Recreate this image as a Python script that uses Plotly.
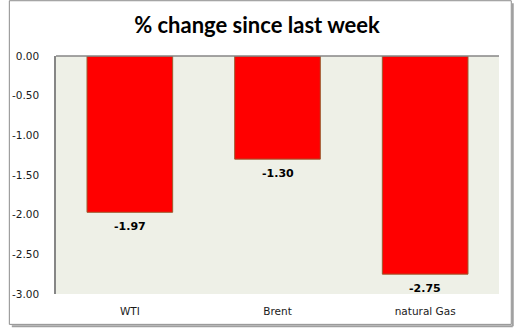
import plotly.graph_objects as go

categories = ["WTI", "Brent", "natural Gas"]
values = [-1.97, -1.30, -2.75]
labels = ["-1.97", "-1.30", "-2.75"]
tick_vals = [0, -0.5, -1.0, -1.5, -2.0, -2.5, -3.0]
tick_text = ["0.00", "-0.50", "-1.00", "-1.50", "-2.00", "-2.50", "-3.00"]

W, H = 514, 329
L, R, T, B = 48, 15, 56, 34
pw, ph = W - L - R, H - T - B

def px(x):
    return (x - L) / pw

def py(y):
    return (H - B - y) / ph

fig = go.Figure()
fig.add_trace(go.Bar(
    x=categories, y=values,
    marker=dict(color="#FF0000", line=dict(color="#9C5A2E", width=1)),
))

for c, v, t in zip(categories, values, labels):
    fig.add_annotation(x=c, y=v, text="<b>%s</b>" % t, showarrow=False,
                       yanchor="middle", yshift=-14,
                       font=dict(family="DejaVu Sans", size=11, color="#000000"))

shapes = [
    dict(type="line", xref="paper", yref="paper", x0=0, x1=1, y0=1, y1=1,
         line=dict(color="#868686", width=1.5)),
    dict(type="rect", xref="paper", yref="paper",
         x0=px(0.5), x1=px(511.5), y0=py(325.5), y1=py(0.5),
         line=dict(color="#8C8C8C", width=1)),
    dict(type="line", xref="paper", yref="paper",
         x0=px(513), x1=px(513), y0=py(327.5), y1=py(3),
         line=dict(color="#A0A0A0", width=2)),
    dict(type="line", xref="paper", yref="paper",
         x0=px(3), x1=px(513), y0=py(327.5), y1=py(327.5),
         line=dict(color="#A0A0A0", width=2)),
]

fig.update_layout(
    width=W, height=H,
    margin=dict(l=L, r=R, t=T, b=B, pad=0),
    paper_bgcolor="#FFFFFF",
    plot_bgcolor="#EEF0E7",
    title=dict(text="<b>% change since last week</b>", x=0.5, xanchor="center",
               y=1 - 25 / H, yanchor="middle",
               font=dict(family="Lato", size=22, color="#000000")),
    bargap=0.42,
    showlegend=False,
    shapes=shapes,
    xaxis=dict(showgrid=False, showline=False, zeroline=False, ticks="",
               tickfont=dict(family="DejaVu Sans", size=10.5, color="#1A1A1A"),
               ticklabelstandoff=9),
    yaxis=dict(range=[-3, 0], tickvals=tick_vals, ticktext=tick_text,
               showgrid=False, zeroline=False,
               showline=True, linecolor="#868686", linewidth=1.5,
               ticks="outside", ticklen=13, tickcolor="rgba(0,0,0,0)",
               tickfont=dict(family="DejaVu Sans", size=10.5, color="#1A1A1A")),
)

fig.write_html("out.html")
